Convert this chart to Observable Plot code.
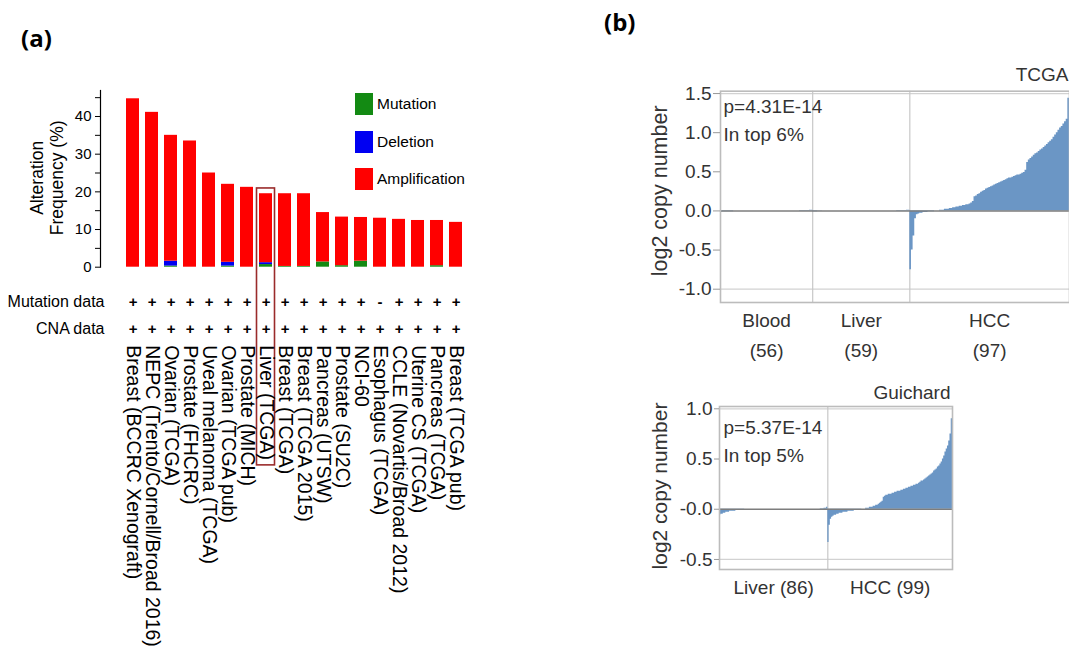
<!DOCTYPE html>
<html><head><meta charset="utf-8">
<script src="https://cdn.jsdelivr.net/npm/d3@7"></script>
<script src="https://cdn.jsdelivr.net/npm/@observablehq/plot@0.6"></script>
<style>
body{margin:0;background:#fff;}
#root{position:relative;width:1069px;height:658px;overflow:hidden;font-family:"Liberation Sans",Arial,sans-serif;}
.tag{position:absolute;font-family:"Open Sans","Liberation Sans",sans-serif;font-weight:bold;font-size:24px;line-height:24px;color:#000;}
.leg{position:absolute;font-size:15.5px;color:#000;line-height:22px;}
.sw{position:absolute;width:18px;height:22px;}
</style></head><body><div id="root"></div>
<script>
// ---------- Panel (a) data ----------
const categories = ["Breast (BCCRC Xenograft)","NEPC (Trento/Cornell/Broad 2016)","Ovarian (TCGA)","Prostate (FHCRC)","Uveal melanoma (TCGA)","Ovarian (TCGA pub)","Prostate (MICH)","Liver (TCGA)","Breast (TCGA)","Breast (TCGA 2015)","Pancreas (UTSW)","Prostate (SU2C)","NCI-60","Esophagus (TCGA)","CCLE (Novartis/Broad 2012)","Uterine CS (TCGA)","Pancreas (TCGA)","Breast (TCGA pub)"];
const totalFreq    = [44.7,41.1,35.0,33.5,25.0,22.0,21.2,19.5,19.5,19.5,14.5,13.3,13.2,13.0,12.7,12.4,12.4,11.9];
const mutationFreq = [0,0,0.3,0,0,0.3,0,0.7,0.2,0.2,1.4,0.4,1.6,0,0,0,0.4,0];
const deletionFreq = [0,0,1.3,0,0,1.0,0,0.5,0,0,0,0,0,0,0,0,0,0];
const mutationDataFlag = ["+","+","+","+","+","+","+","+","+","+","+","+","+","-","+","+","+","+"];
const cnaDataFlag      = ["+","+","+","+","+","+","+","+","+","+","+","+","+","+","+","+","+","+"];
const alterationTypes  = ["Mutation","Deletion","Amplification"];
const alterationColors = ["#138a13","#0000f2","#ff0000"];
const highlighted = "Liver (TCGA)";
const freqTicks = [0,5,10,15,20,25,30,35,40,45];

// ---------- Panel (b) data ----------
const tcgaGroupNames = ["Blood","Liver","HCC"];
const tcgaBlood = [-0.02,-0.01,-0.01,-0.01,-0.01,-0.01,-0.01,-0.01,
 0,0,0,0,0,0,0,0,0,0,
 0,0,0,0,0,0,0,0,0,0,
 0,0,0,0,0,0,0,0,0,0,
 0,0,0,0,0,0,0,0,0,0,
 0.005,0.005,0.005,0.005,0.005,0.005,0.01,0.01];
const tcgaLiver = [-0.01,-0.01,-0.01,-0.005,-0.005,-0.005,
 0,0,0,0,0,0,0,0,0,0,
 0,0,0,0,0,0,0,0,0,0,
 0,0,0,0,0,0,0,0,0,0,
 0,0,0,0,0,0,0,0,0,0,
 0,0,0,0,0,
 0.005,0.005,0.005,0.005,0.005,0.005,0.01,0.01];
const tcgaHCC = [-0.75,-0.5,-0.32,-0.1,-0.05,-0.04,-0.03,-0.03,-0.02,-0.02,
 -0.02,-0.01,-0.01,-0.01,-0.01,0,0,0,0.01,0.01,
 0.01,0.02,0.02,0.02,0.03,0.03,0.04,0.04,0.05,0.05,
 0.06,0.06,0.07,0.07,0.08,0.08,0.09,0.1,0.12,0.18,
 0.19,0.21,0.22,0.24,0.25,0.26,0.28,0.29,0.3,0.31,
 0.32,0.33,0.34,0.35,0.36,0.37,0.38,0.39,0.4,0.41,
 0.42,0.42,0.43,0.44,0.45,0.46,0.46,0.47,0.48,0.49,
 0.52,0.62,0.65,0.67,0.69,0.71,0.73,0.74,0.76,0.78,
 0.79,0.81,0.83,0.85,0.87,0.89,0.91,0.94,0.97,1.0,
 1.03,1.06,1.08,1.11,1.14,1.17,1.44];
const tcgaTicks = [-1,-0.5,0,0.5,1,1.5];
const tcgaGrid = [1.5,-1.0];

const guichardGroupNames = ["Liver","HCC"];
const guichardLiver = [-0.06,-0.05,-0.05,-0.04,-0.04,-0.03,-0.03,-0.03,-0.02,-0.02,
 -0.02,-0.02,-0.02,-0.01,-0.01,-0.01,-0.01,-0.01,-0.01,-0.01,
 0,0,0,0,0,0,0,0,0,0,
 0,0,0,0,0,0,0,0,0,0,
 0,0,0,0,0,0,0,0,0,0,
 0,0,0,0,0,0,0,0,0,0,
 0,0,0,0,0,0,0,0,0,0,
 0,0,0,0,0,0,0,0,0,0,
 0.005,0.005,0.005,0.01,0.01,0.02];
const guichardHCC = [-0.33,-0.16,-0.1,-0.08,-0.07,-0.06,-0.06,-0.05,-0.05,-0.04,
 -0.04,-0.04,-0.03,-0.03,-0.03,-0.03,-0.02,-0.02,-0.02,-0.02,
 -0.02,-0.01,-0.01,-0.01,-0.01,-0.01,-0.01,0,0,0,
 0.01,0.01,0.01,0.02,0.02,0.02,0.03,0.03,0.04,0.04,
 0.05,0.06,0.07,0.08,0.12,0.13,0.14,0.14,0.15,0.15,
 0.15,0.16,0.16,0.17,0.17,0.18,0.18,0.18,0.19,0.19,
 0.2,0.2,0.21,0.21,0.22,0.22,0.23,0.23,0.24,0.24,
 0.25,0.25,0.26,0.27,0.28,0.28,0.29,0.3,0.31,0.32,
 0.33,0.34,0.35,0.36,0.38,0.39,0.4,0.42,0.43,0.45,
 0.47,0.5,0.53,0.57,0.6,0.63,0.68,0.75,0.9];
const guichardTicks = [-0.5,0,0.5,1];
const guichardTickLabels = ["-0.5","-0.0","0.5","1.0"];
const guichardGrid = [1.0,-0.5];

const FONT = '"Liberation Sans", Arial, Helvetica, sans-serif';
const BLUE = "#6b96c5";
const root = document.getElementById("root");

function place(el, left, top){ el.style.position="absolute"; el.style.left=left+"px"; el.style.top=top+"px"; root.appendChild(el); }

// ---------- Panel (a) ----------
const rows = categories.flatMap((c,i)=>[
  {cat:c,type:"Mutation",value:mutationFreq[i]},
  {cat:c,type:"Deletion",value:deletionFreq[i]},
  {cat:c,type:"Amplification",value:+(totalFreq[i]-mutationFreq[i]-deletionFreq[i]).toFixed(2)}
]);

const plotA = Plot.plot({
  width: 480, height: 658,
  marginLeft: 100, marginRight: 0, marginTop: 90, marginBottom: 391.3,
  x: {domain: categories, padding: 0.29, insetLeft: 13.6, insetRight: 5.5, axis: null},
  y: {domain: [0, 46.9], axis: null},
  color: {domain: alterationTypes, range: alterationColors},
  style: {fontFamily: FONT, color: "#000", background: "transparent", overflow: "visible"},
  marks: [
    Plot.barY(rows, {x: "cat", y: "value", fill: "type"}),
    Plot.barY([highlighted], {x: d=>d, y1: 20.9, y2: -52.6, fill: "none", stroke: "#9a2b2b", strokeWidth: 1.6, insetLeft: -2.5, insetRight: -2.5}),
    Plot.frame({anchor: "left", stroke: "#000", strokeWidth: 1.2}),
    Plot.axisY(freqTicks, {tickFormat: d => d % 10 === 0 ? String(d) : "", tickSize: 5, tickPadding: 4, fontSize: 15, label: null}),
    Plot.text(["Alteration\nFrequency (%)"], {frameAnchor: "left", rotate: -90, textAnchor: "middle", dx: -54, dy: -1, lineAnchor: "middle", fontSize: 17.5, lineHeight: 1.14}),
    Plot.text(["Mutation data"], {frameAnchor: "bottom-left", dx: 4, dy: 35, textAnchor: "end", lineAnchor: "middle", fontSize: 16}),
    Plot.text(["CNA data"], {frameAnchor: "bottom-left", dx: 4, dy: 62, textAnchor: "end", lineAnchor: "middle", fontSize: 16}),
    Plot.text(categories, {x: d=>d, text: (d,i)=>mutationDataFlag[i], frameAnchor: "bottom", dy: 35, lineAnchor: "middle", fontSize: 15, fontWeight: "bold"}),
    Plot.text(categories, {x: d=>d, text: (d,i)=>cnaDataFlag[i], frameAnchor: "bottom", dy: 62, lineAnchor: "middle", fontSize: 15, fontWeight: "bold"}),
    Plot.text(categories, {x: d=>d, text: d=>d, frameAnchor: "bottom", dy: 78, rotate: 90, textAnchor: "start", lineAnchor: "middle", fontSize: 19.5})
  ]
});
place(plotA, 0, 0);

// legend for (a)
alterationTypes.forEach((t,i)=>{
  const sw = document.createElement("div"); sw.className="sw"; sw.style.background=alterationColors[i];
  place(sw, 355, 93 + i*37.5);
  const lb = document.createElement("div"); lb.className="leg"; lb.textContent=t;
  place(lb, 377, 93 + i*37.5);
});

// ---------- Panel (b) helper: step points from the sorted sample values ----------
function buildSamples(groups){
  const steps = [], info = []; let off = 0, last = 0;
  groups.forEach(([name, vals])=>{
    vals.forEach((v,i)=>{ steps.push({x: off+i, v}); last = v; });
    info.push({name, n: vals.length, start: off, center: off + vals.length/2});
    off += vals.length;
  });
  steps.push({x: off, v: last});
  return {steps, info, total: off};
}

// TCGA
const tc = buildSamples([[tcgaGroupNames[0], tcgaBlood],[tcgaGroupNames[1], tcgaLiver],[tcgaGroupNames[2], tcgaHCC]]);
const plotT = Plot.plot({
  width: 429, height: 320,
  marginLeft: 80, marginRight: 0, marginTop: 30.7, marginBottom: 78,
  x: {domain: [0, tc.total], axis: null},
  y: {domain: [-1.17, 1.53], axis: null},
  style: {fontFamily: FONT, color: "#333", background: "transparent", overflow: "visible"},
  marks: [
    Plot.ruleY(tcgaGrid, {stroke: "#d2d2d2", strokeWidth: 1.3}),
    Plot.ruleX(tc.info.slice(1), {x: "start", stroke: "#c8c8c8", strokeWidth: 1.2}),
    Plot.areaY(tc.steps, {x: "x", y1: 0, y2: "v", curve: "step-after", fill: BLUE}),
    Plot.ruleY([0], {stroke: "#7d7d7d", strokeWidth: 1.6}),
    Plot.frame({stroke: "#bcbcbc", strokeWidth: 1.6}),
    Plot.axisY(tcgaTicks, {tickFormat: d => d.toFixed(1), tickSize: 7, tickPadding: 2, fontSize: 19, stroke: "#999", label: null}),
    Plot.text(["log2 copy number"], {frameAnchor: "left", rotate: -90, textAnchor: "middle", dx: -60, dy: -6, lineAnchor: "middle", fontSize: 21.5}),
    Plot.text(["TCGA"], {frameAnchor: "top-right", textAnchor: "end", dx: -1, dy: -16, lineAnchor: "middle", fontSize: 19}),
    Plot.text(["p=4.31E-14"], {frameAnchor: "top-left", textAnchor: "start", dx: 3, dy: 16, lineAnchor: "middle", fontSize: 19}),
    Plot.text(["In top 6%"], {frameAnchor: "top-left", textAnchor: "start", dx: 3, dy: 44, lineAnchor: "middle", fontSize: 19}),
    Plot.text(tc.info, {x: "center", text: "name", frameAnchor: "bottom", dy: 18, lineAnchor: "middle", fontSize: 19}),
    Plot.text(tc.info, {x: "center", text: d => `(${d.n})`, frameAnchor: "bottom", dy: 48, lineAnchor: "middle", fontSize: 19})
  ]
});
place(plotT, 640, 60);

// Guichard
const gu = buildSamples([[guichardGroupNames[0], guichardLiver],[guichardGroupNames[1], guichardHCC]]);
const plotG = Plot.plot({
  width: 330, height: 230,
  marginLeft: 79, marginRight: 18, marginTop: 26, marginBottom: 41,
  x: {domain: [0, gu.total], axis: null},
  y: {domain: [-0.6, 1.023], axis: null},
  style: {fontFamily: FONT, color: "#333", background: "transparent", overflow: "visible"},
  marks: [
    Plot.ruleY(guichardGrid, {stroke: "#d2d2d2", strokeWidth: 1.3}),
    Plot.ruleX(gu.info.slice(1), {x: "start", stroke: "#c8c8c8", strokeWidth: 1.2}),
    Plot.areaY(gu.steps, {x: "x", y1: 0, y2: "v", curve: "step-after", fill: BLUE}),
    Plot.ruleY([0], {stroke: "#7d7d7d", strokeWidth: 1.6}),
    Plot.frame({stroke: "#bcbcbc", strokeWidth: 1.6}),
    Plot.axisY(guichardTicks, {tickFormat: d => guichardTickLabels[guichardTicks.indexOf(d)], tickSize: 5, tickPadding: 2, fontSize: 19, stroke: "#999", label: null}),
    Plot.text(["log2 copy number"], {frameAnchor: "left", rotate: -90, textAnchor: "middle", dx: -59, dy: -2, lineAnchor: "middle", fontSize: 21}),
    Plot.text(["Guichard"], {frameAnchor: "top-right", textAnchor: "end", dx: -2, dy: -14, lineAnchor: "middle", fontSize: 19}),
    Plot.text(["p=5.37E-14"], {frameAnchor: "top-left", textAnchor: "start", dx: 4, dy: 21, lineAnchor: "middle", fontSize: 19}),
    Plot.text(["In top 5%"], {frameAnchor: "top-left", textAnchor: "start", dx: 4, dy: 49, lineAnchor: "middle", fontSize: 19}),
    Plot.text(gu.info, {x: "center", text: d => `${d.name} (${d.n})`, frameAnchor: "bottom", dy: 18, lineAnchor: "middle", fontSize: 19})
  ]
});
place(plotG, 640, 380);

// panel tags
const ta = document.createElement("div"); ta.className="tag"; ta.textContent="(a)"; place(ta, 21, 26);
const tb = document.createElement("div"); tb.className="tag"; tb.textContent="(b)"; place(tb, 604, 10);
</script></body></html>
